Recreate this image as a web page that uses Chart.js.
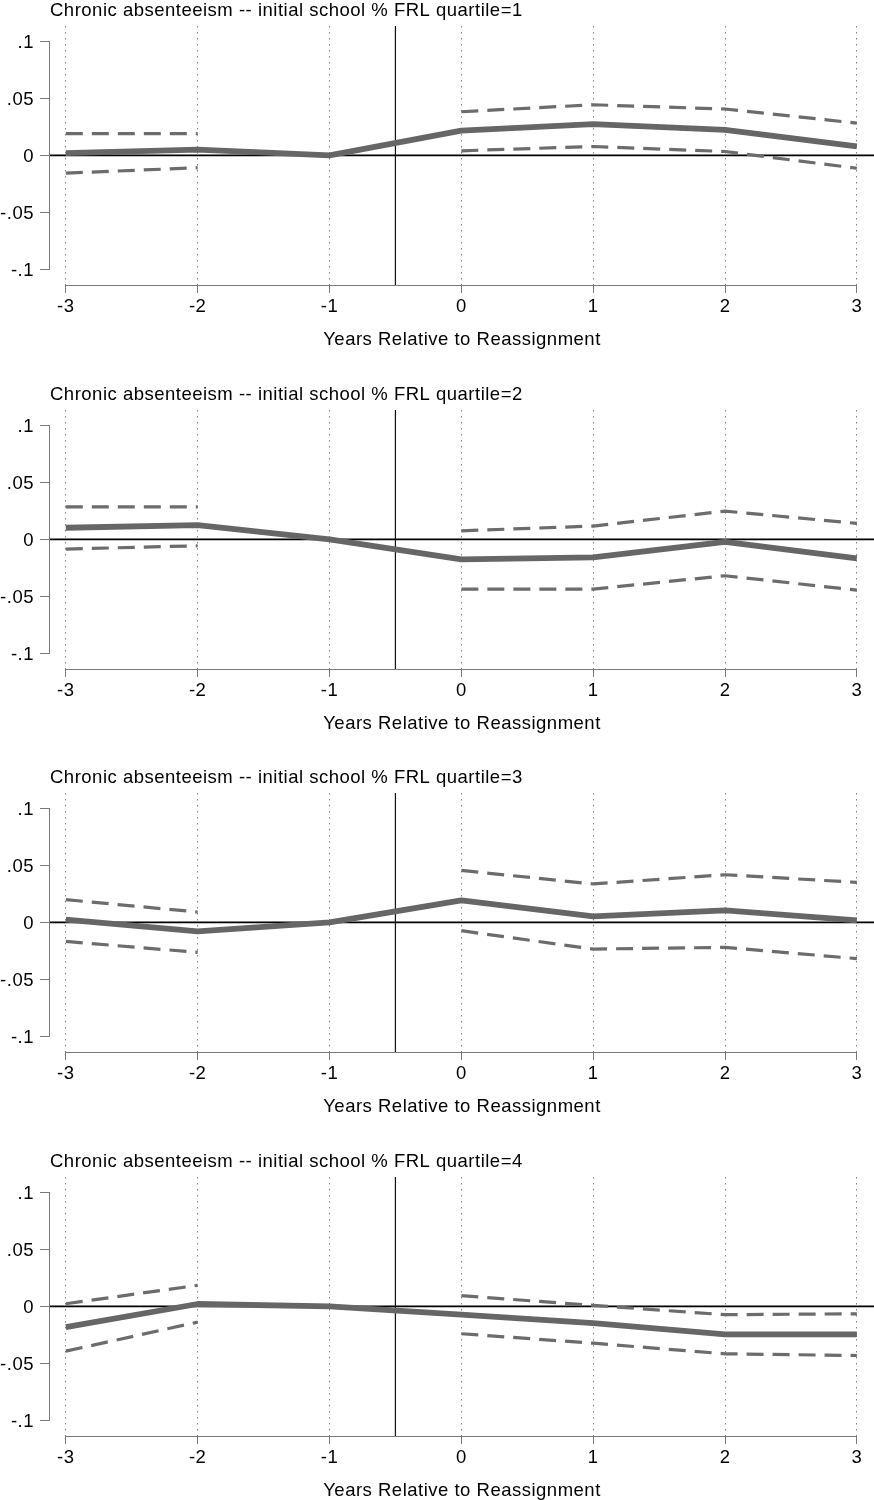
<!DOCTYPE html>
<html><head><meta charset="utf-8">
<script src="https://cdn.jsdelivr.net/npm/chart.js@4.4.1/dist/chart.umd.min.js"></script>
<style>
html,body{margin:0;padding:0;background:#fff;overflow:hidden;}
#wrap{position:relative;width:874px;height:1500px;overflow:hidden;}
.panel{position:absolute;left:0;width:874px;height:384px;}
</style></head><body><div id="wrap"></div>
<script>
// ---- data ----
const years = [-3, -2, -1, 0, 1, 2, 3];
const yTickValues = [-0.1, -0.05, 0, 0.05, 0.1];
const yTickLabels = ['-.1', '-.05', '0', '.05', '.1'];
const titlePrefix = 'Chronic absenteeism -- initial school % FRL quartile=';
const quartiles = [1, 2, 3, 4];
const xAxisTitle = 'Years Relative to Reassignment';
const eventLineX = -0.5;

const est1 = [0.002, 0.005, 0, 0.0218, 0.0275, 0.0224, 0.0078];
const hi1  = [0.0191, 0.0191, null, 0.0383, 0.0444, 0.0407, 0.0283];
const lo1  = [-0.0156, -0.0108, null, 0.004, 0.0078, 0.0034, -0.0113];

const est2 = [0.0102, 0.0125, 0, -0.0175, -0.0158, -0.0021, -0.0167];
const hi2  = [0.0286, 0.0286, null, 0.0075, 0.0117, 0.0248, 0.014];
const lo2  = [-0.0085, -0.0056, null, -0.0436, -0.0436, -0.0319, -0.0445];

const est3 = [0.0024, -0.0079, 0, 0.0193, 0.0053, 0.0105, 0.0018];
const hi3  = [0.0199, 0.0091, null, 0.0456, 0.0337, 0.0418, 0.0351];
const lo3  = [-0.0167, -0.0263, null, -0.0073, -0.0234, -0.0219, -0.0318];

const est4 = [-0.0182, 0.0021, 0, -0.0073, -0.0147, -0.0246, -0.0246];
const hi4  = [0.0023, 0.0185, null, 0.0094, 0.0009, -0.0073, -0.0065];
const lo4  = [-0.0393, -0.0138, null, -0.024, -0.0323, -0.0416, -0.0431];

const estSeries = [est1, est2, est3, est4];
const hiSeries = [hi1, hi2, hi3, hi4];
const loSeries = [lo1, lo2, lo3, lo4];

// ---- styling / layout ----
Chart.defaults.font.family = '"Liberation Sans", Arial, Helvetica, sans-serif';
Chart.defaults.font.size = 18.5;
Chart.defaults.color = '#000';

const panelTops = [0, 384, 767, 1151];
const PANEL_H = 384;

const spacing = {
  id: 'spacing',
  beforeDraw(chart) { chart.ctx.letterSpacing = '0.5px'; }
};

const refLines = {
  id: 'refLines',
  beforeDatasetsDraw(chart) {
    const ctx = chart.ctx, a = chart.chartArea, x = chart.scales.x, y = chart.scales.y;
    ctx.save();
    ctx.setLineDash([]);
    // axis lines (span of ticks only)
    ctx.strokeStyle = '#7a7a7a';
    ctx.lineWidth = 1;
    ctx.beginPath();
    const ax = Math.round(a.left) - 0.5;
    ctx.moveTo(ax, y.getPixelForValue(yTickValues[yTickValues.length - 1]));
    ctx.lineTo(ax, y.getPixelForValue(yTickValues[0]));
    const ay = Math.round(a.bottom) + 0.5;
    ctx.moveTo(x.getPixelForValue(years[0]), ay);
    ctx.lineTo(x.getPixelForValue(years[years.length - 1]), ay);
    ctx.stroke();
    // zero line
    ctx.strokeStyle = '#000';
    ctx.lineWidth = 1.6;
    ctx.beginPath();
    const zy = y.getPixelForValue(0);
    ctx.moveTo(a.left, zy);
    ctx.lineTo(a.right, zy);
    ctx.stroke();
    // event line
    ctx.lineWidth = 1.2;
    ctx.strokeStyle = '#111';
    ctx.beginPath();
    const ex = x.getPixelForValue(eventLineX);
    ctx.moveTo(ex, a.top);
    ctx.lineTo(ex, a.bottom);
    ctx.stroke();
    ctx.restore();
  }
};

function xy(arr) { return years.map((v, i) => ({ x: v, y: arr[i] })); }

const wrap = document.getElementById('wrap');
quartiles.forEach((q, p) => {
  const div = document.createElement('div');
  div.className = 'panel';
  div.style.top = panelTops[p] + 'px';
  const cv = document.createElement('canvas');
  cv.width = 874; cv.height = PANEL_H;
  cv.style.width = '874px'; cv.style.height = PANEL_H + 'px';
  div.appendChild(cv);
  wrap.appendChild(div);

  new Chart(cv, {
    type: 'line',
    data: {
      datasets: [
        { label: 'Estimate', data: xy(estSeries[p]), borderColor: '#666666', borderWidth: 5.8,
          pointRadius: 0, tension: 0, fill: false, borderCapStyle: 'butt', borderJoinStyle: 'round' },
        { label: 'Upper 95% CI', data: xy(hiSeries[p]), borderColor: '#6c6c6c', borderWidth: 3.2,
          borderDash: [17, 9], pointRadius: 0, tension: 0, fill: false, spanGaps: false },
        { label: 'Lower 95% CI', data: xy(loSeries[p]), borderColor: '#6c6c6c', borderWidth: 3.2,
          borderDash: [17, 9], pointRadius: 0, tension: 0, fill: false, spanGaps: false }
      ]
    },
    options: {
      responsive: false,
      animation: false,
      devicePixelRatio: 1,
      layout: { padding: 0 },
      plugins: {
        legend: { display: false },
        tooltip: { enabled: false },
        title: {
          display: true, text: titlePrefix + q, align: 'start', fullSize: false,
          color: '#000', font: { size: 18.5, weight: 'normal' },
          padding: { top: 0, bottom: 3.8 }
        }
      },
      scales: {
        x: {
          type: 'linear', min: -3.12, max: 3.13,
          afterBuildTicks: s => { s.ticks = years.map(v => ({ value: v })); },
          afterFit: s => { s.height = 99; },
          ticks: { autoSkip: false, maxRotation: 0, padding: 3, color: '#000',
                   callback: v => String(v) },
          grid: { display: true, drawOnChartArea: true, drawTicks: true, tickLength: 8,
                  color: '#808080', tickColor: '#7a7a7a', lineWidth: 1, tickWidth: 1,
                  borderDash: [1.5, 4.5] },
          border: { display: false, dash: [1.5, 4.5] },
          title: { display: true, text: xAxisTitle, color: '#000',
                   font: { size: 18.5 }, padding: { top: 0, bottom: 33 } }
        },
        y: {
          type: 'linear', min: -0.1137, max: 0.1135,
          afterBuildTicks: s => { s.ticks = yTickValues.map(v => ({ value: v })); },
          afterFit: s => { s.width = 50; },
          ticks: { autoSkip: false, padding: 6, labelOffset: 2, color: '#000',
                   callback: (v, i) => yTickLabels[i] },
          grid: { display: true, drawOnChartArea: false, drawTicks: true, tickLength: 10,
                  color: '#7a7a7a', tickColor: '#7a7a7a' },
          border: { display: false }
        }
      }
    },
    plugins: [spacing, refLines]
  });
});
</script>
</body></html>
